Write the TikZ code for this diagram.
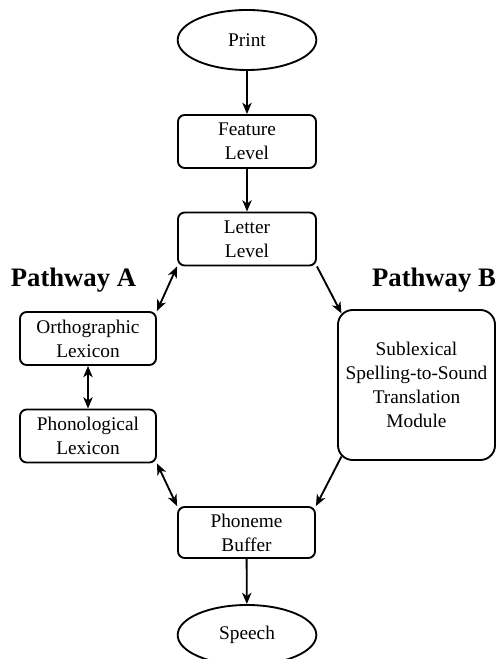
\documentclass[tikz,border=0pt]{standalone}
\usepackage{fontspec}
\setmainfont{Liberation Serif}
\usetikzlibrary{shapes.geometric, arrows.meta, calc}

\tikzset{
  lev/.style={draw, line width=1.4pt, rounded corners=5pt, align=center, inner sep=0pt,
    font=\fontsize{14.5}{18}\selectfont},
  ends/.style={draw, line width=1.4pt, ellipse, inner sep=0pt, minimum width=104pt,
    minimum height=45pt, font=\fontsize{14.5}{18}\selectfont},
  path/.style={font=\bfseries\fontsize{20}{24}\selectfont, anchor=base},
  tip/.tip={Stealth[length=8.5pt,width=7pt,inset=2.5pt]},
  arr/.style={line width=1.4pt, -tip},
  darr/.style={line width=1.4pt, tip-tip}
}

\begin{document}
\begin{tikzpicture}[x=0.75pt, y=0.75pt]
\useasboundingbox (0,0) rectangle (496,659);
\node (print) at (247,619)[ends] {Print};
\node (feature) at (247,517.5)[lev, minimum width=103.5pt, minimum height=39.75pt] {Feature\\Level};
\node (letter) at (247,420)[lev, minimum width=103.5pt, minimum height=39.75pt] {Letter\\Level};
\node (ortho) at (88,320.5)[lev, minimum width=102pt, minimum height=39.75pt] {Orthographic\\Lexicon};
\node (phono) at (88,223)[lev, minimum width=102pt, minimum height=39.75pt] {Phonological\\Lexicon};
\node (sub) at (416.5,274)[lev, rounded corners=11pt, minimum width=117.75pt, minimum height=112.5pt] {Sublexical\\Spelling-to-Sound\\Translation\\Module};
\node (phoneme) at (246.5,126.5)[lev, minimum width=102.75pt, minimum height=38.25pt] {Phoneme\\Buffer};
\node (speech) at (247,24)[ends] {Speech};
\node (pathA) at (73.5,372)[path] {Pathway A};
\node (pathB) at (434,372)[path] {Pathway B};
% arrows
\draw[arr] (print) -- (feature);
\draw[arr] (feature) -- (letter);
\draw[darr] (letter.south west) -- (ortho.north east);
\draw[darr] (ortho) -- (phono);
\draw[darr] (phono.south east) -- (phoneme.north west);
\draw[arr] (letter.south east) -- ($(sub.north west)+(4.4,-4.4)$);
\draw[arr] ($(sub.south west)+(4.4,4.4)$) -- (phoneme.north east);
\draw[arr] (phoneme) -- (speech);
\end{tikzpicture}
\end{document}
